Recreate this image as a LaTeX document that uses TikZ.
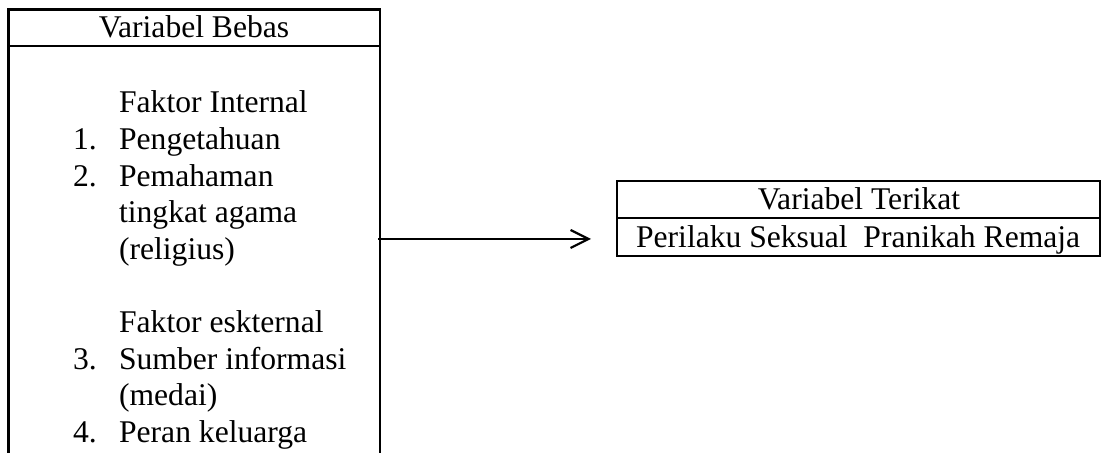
\documentclass[tikz,border=0pt]{standalone}
\usepackage{fontspec}
\setmainfont{Liberation Serif}
\usetikzlibrary{arrows.meta}
\begin{document}
\begin{tikzpicture}[x=0.5pt,y=-0.5pt,line width=1.1pt,
  txt/.style={anchor=base west,inner sep=0pt,font=\fontsize{15.8pt}{18pt}\selectfont},
  ctxt/.style={anchor=base,inner sep=0pt,font=\fontsize{15.8pt}{18pt}\selectfont},
  arr/.style={-{Straight Barb[length=9pt,width=9pt]}}]
\useasboundingbox (0,0) rectangle (1103,453);
% left box (open at the bottom)
\draw (8.5,453) -- (8.5,9.5) -- (380,9.5) -- (380,453);
\draw (8.5,46.3) -- (380,46.3);
\node[ctxt] (hbebas) at (194,37.5) {Variabel Bebas};
\node[txt] (fint) at (118,113) {Faktor Internal};
\node[txt] (n1) at (72,149.6) {1.};
\node[txt] (t1) at (118,149.6) {Pengetahuan};
\node[txt] (n2) at (72,186.2) {2.};
\node[txt] (t2) at (118,186.2) {Pemahaman};
\node[txt] (t2b) at (118,222.8) {tingkat agama};
\node[txt] (t2c) at (118,259.4) {(religius)};
\node[txt] (fext) at (118,332.6) {Faktor eskternal};
\node[txt] (n3) at (72,369.2) {3.};
\node[txt] (t3) at (118,369.2) {Sumber informasi};
\node[txt] (t3b) at (118,405.8) {(medai)};
\node[txt] (n4) at (72,442.4) {4.};
\node[txt] (t4) at (118,442.4) {Peran keluarga};
% right box
\draw (617,181) rectangle (1100,256);
\draw (617,218) -- (1100,218);
\node[ctxt] (hterikat) at (859,210) {Variabel Terikat};
\node[txt] (perilaku) at (635,247.5) {Perilaku Seksual\ \ Pranikah Remaja};
% arrow
\coordinate (from) at (378,239);
\coordinate (to) at (591,239);
\draw[arr] (from) -- (to);
\end{tikzpicture}
\end{document}
